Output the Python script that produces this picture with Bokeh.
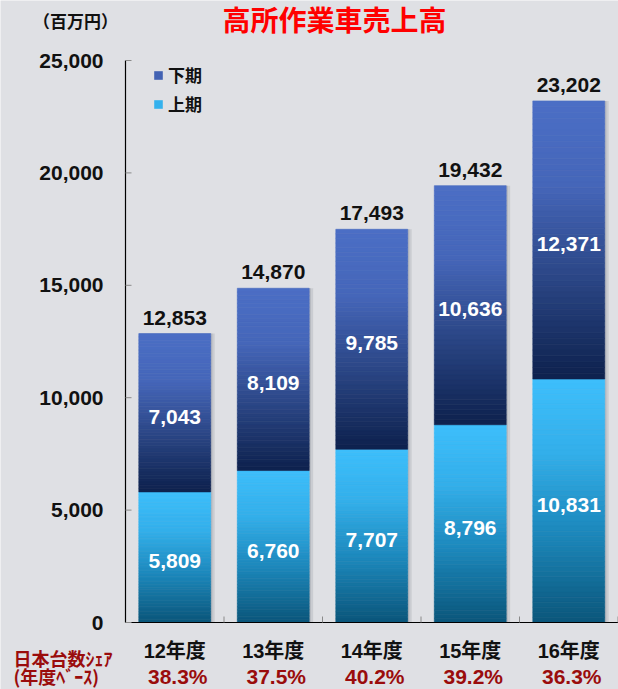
import numpy as np
from bokeh.plotting import figure
from bokeh.models import Range1d, ColumnDataSource, Legend, LegendItem
from bokeh.embed import file_html
from bokeh.resources import INLINE
from bokeh.core.properties import value

# ---- data ----
categories = ["12年度", "13年度", "14年度", "15年度", "16年度"]
first_half = [5809, 6760, 7707, 8796, 10831]      # 上期
second_half = [7043, 8109, 9785, 10636, 12371]    # 下期
totals = [12853, 14870, 17493, 19432, 23202]
share = ["38.3%", "37.5%", "40.2%", "39.2%", "36.3%"]
y_ticks = [0, 5000, 10000, 15000, 20000, 25000]
y_tick_labels = ["0", "5,000", "10,000", "15,000", "20,000", "25,000"]

title_text = "高所作業車売上高"
unit_text = "（百万円）"
share_label_1 = "日本台数ｼｪｱ"
share_label_2 = "(年度ﾍﾞｰｽ)"

BG = "#dfe0e4"
NUM_FONT = "Liberation Sans"
JP_FONT = "Noto Sans CJK JP"
MIX_FONT = "Liberation Sans, Noto Sans CJK JP"
DARK_RED = "#9a0c0c"

W, H = 618, 689
# layout in pixels
AX_X, TOP_Y, ZERO_Y, STEP = 125, 60, 622, 98.5
YMAX = max(y_ticks)
upp = YMAX / (ZERO_Y - TOP_Y)           # data units per pixel (y)
y_start = -(H - ZERO_Y) * upp
y_end = YMAX + TOP_Y * upp
x_start = -0.5 - AX_X / STEP
x_end = x_start + W / STEP

p = figure(width=W, height=H, x_range=Range1d(x_start, x_end), y_range=Range1d(y_start, y_end),
           output_backend="svg", toolbar_location=None, min_border=0,
           background_fill_color=BG, border_fill_color=BG, outline_line_color=None)
p.axis.visible = False
p.grid.visible = False

xi = list(range(len(categories)))
x_left = -0.5
x_right = len(categories) - 0.5

def ramp(stops, n):
    ts = np.linspace(0, 1, n)
    pos = [s[0] for s in stops]
    cols = [tuple(int(s[1][i:i + 2], 16) for i in (1, 3, 5)) for s in stops]
    out = []
    for t in ts:
        rgb = [np.interp(t, pos, [c[k] for c in cols]) for k in range(3)]
        out.append("#%02x%02x%02x" % tuple(int(round(v)) for v in rgb))
    return out

N = 48
lower_stops = [(0, "#3dbefb"), (0.3, "#33afea"), (0.65, "#1b86b9"), (1, "#0b577c")]
upper_stops = [(0, "#4b6ec5"), (0.3, "#4566b9"), (0.65, "#2a4584"), (1, "#0e224f")]
lower_cols = ramp(lower_stops, N)  # top -> bottom
upper_cols = ramp(upper_stops, N)

BW = 0.73
# soft shadow
st = [a + b for a, b in zip(first_half, second_half)]
p.vbar(x=[x + 0.025 for x in xi], bottom=0, top=st, width=BW + 0.03, fill_color="#8c8e98",
       fill_alpha=0.25, line_color=None)
p.vbar(x=[x + 0.012 for x in xi], bottom=0, top=st, width=BW + 0.012, fill_color="#8c8e98",
       fill_alpha=0.3, line_color=None)

xs, bots, tops, cols = [], [], [], []
for i, a, b in zip(xi, first_half, second_half):
    for seg_bottom, seg_val, colors in ((0, a, lower_cols), (a, b, upper_cols)):
        for k in range(N):
            top = seg_bottom + seg_val * (N - k) / N
            bot = seg_bottom + seg_val * (N - k - 1) / N
            xs.append(i); bots.append(bot); tops.append(top); cols.append(colors[k])
src = ColumnDataSource(dict(x=xs, bottom=bots, top=tops, color=cols))
bars = p.vbar(x="x", bottom="bottom", top="top", width=BW, fill_color="color", line_color="color",
              line_width=0.6, source=src)

# axes lines and ticks (drawn from the tick list)
p.segment(x0=[x_left], y0=[min(y_ticks)], x1=[x_left], y1=[YMAX], line_color="black", line_width=1.2)
p.segment(x0=[x_left], y0=[0], x1=[x_right], y1=[0], line_color="black", line_width=1.2)
tick_len_x = 6 / STEP
p.segment(x0=[x_left] * len(y_ticks), y0=y_ticks, x1=[x_left + tick_len_x] * len(y_ticks),
          y1=y_ticks, line_color="#8a8a8a", line_width=1)
bounds = [i + 0.5 for i in xi]
p.segment(x0=bounds, y0=[0] * len(bounds), x1=bounds, y1=[6 * upp] * len(bounds),
          line_color="#8a8a8a", line_width=1)

# y tick labels
p.text(x=[x_left] * len(y_ticks), y=y_ticks, text=y_tick_labels, x_offset=-22,
       text_align="right", text_baseline="middle", text_font=value(NUM_FONT),
       text_font_style="bold", text_font_size="21px", text_color="#111111")

# category labels and share
p.text(x=xi, y=[0] * len(xi), text=categories, y_offset=28, text_align="center",
       text_baseline="middle", text_font=value(MIX_FONT), text_font_style="bold",
       text_font_size="20px", text_color="#111111")
p.text(x=xi, y=[0] * len(xi), text=share, y_offset=54, x_offset=3, text_align="center",
       text_baseline="middle", text_font=value(NUM_FONT), text_font_style="bold",
       text_font_size="21px", text_color=DARK_RED)
p.text(x=[x_left, x_left], y=[0, 0], text=[share_label_1, share_label_2], x_offset=-112,
       y_offset=[35, 53], text_align="left", text_baseline="middle", text_font=value(JP_FONT),
       text_font_style="bold", text_font_size="18px", text_color=DARK_RED)

# value labels
fmt = lambda v: "{:,}".format(v)
lab = ColumnDataSource(dict(
    x=xi, tot=totals, tot_t=[fmt(v) for v in totals],
    lo_mid=[a / 2 for a in first_half], lo_t=[fmt(v) for v in first_half],
    up_mid=[a + b / 2 for a, b in zip(first_half, second_half)],
    up_t=[fmt(v) for v in second_half]))
p.text(x="x", y="tot", text="tot_t", source=lab, text_align="center", text_baseline="alphabetic",
       y_offset=-16, text_font=value(NUM_FONT), text_font_style="bold", text_font_size="21px",
       text_color="#111111")
for col_y, col_t in (("lo_mid", "lo_t"), ("up_mid", "up_t")):
    p.text(x="x", y=col_y, text=col_t, source=lab, text_align="center", text_baseline="middle",
           y_offset=4, text_font=value(NUM_FONT), text_font_style="bold", text_font_size="21px",
           text_color="white")

# title and unit
p.text(x=[x_left], y=[YMAX], text=[title_text], x_offset=209, y_offset=-42, text_align="center",
       text_baseline="middle", text_font=value(JP_FONT), text_font_style="bold",
       text_font_size="28px", text_color="#ff0000")
p.text(x=[x_left], y=[YMAX], text=[unit_text], x_offset=-50, y_offset=-40, text_align="center",
       text_baseline="middle", text_font=value(JP_FONT), text_font_style="bold",
       text_font_size="17px", text_color="#111111")

# legend
legend = Legend(items=[LegendItem(label="下期", renderers=[bars], index=N + int(0.35 * N)),
                       LegendItem(label="上期", renderers=[bars], index=int(0.25 * N))],
                location=(153, 573), orientation="vertical",
                background_fill_alpha=0, border_line_color=None,
                glyph_width=10, glyph_height=10, label_height=22, spacing=4, padding=0,
                label_standoff=5, label_text_font=JP_FONT, label_text_font_style="bold",
                label_text_font_size="17px", label_text_color="#111111", margin=0)
p.add_layout(legend)

open("out.html", "w").write(file_html(p, INLINE))
